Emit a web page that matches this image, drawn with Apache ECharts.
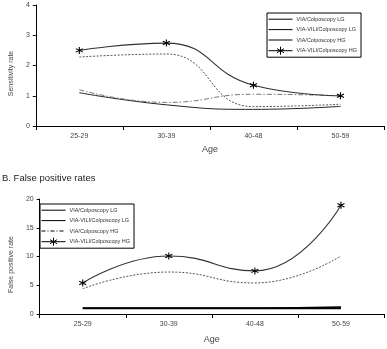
<!DOCTYPE html>
<html>
<head>
<meta charset="utf-8">
<script src="https://cdn.jsdelivr.net/npm/echarts@6/dist/echarts.min.js"></script>
<style>
  html, body { margin: 0; padding: 0; background: #fff; }
  #chartA { position: absolute; left: 0; top: 0; width: 387px; height: 160px; }
  #chartB { position: absolute; left: 0; top: 160px; width: 387px; height: 189px; }
</style>
</head>
<body>
<div id="chartA"></div>
<div id="chartB"></div>
<script>
// categories
var ages = ['25-29', '30-39', '40-48', '50-59'];
var names = ['VIA/Colposcopy LG', 'VIA-VILI/Colposcopy LG', 'VIA/Colposcopy HG', 'VIA-VILI/Colposcopy HG'];

// A: sensitivity rate
var sensViaLG = [1.1, 0.7, 0.55, 0.65];
var sensViliLG = [1.2, 0.78, 1.05, 1.0];
var sensViaHG = [2.28, 2.38, 0.64, 0.72];
var sensViliHG = [2.5, 2.74, 1.35, 1.0];

// B: false positive rate
var fpViaLG = [1.0, 1.0, 1.0, 1.0];
var fpViliLG = [1.0, 1.0, 1.0, 1.2];
var fpViaHG = [4.4, 7.3, 5.4, 10.1];
var fpViliHG = [5.4, 10.1, 7.5, 18.9];

var FONT = 'Liberation Sans';
var TXT = '#444';
var star = 'path://M5,0L5,10M0.67,2.5L9.33,7.5M0.67,7.5L9.33,2.5';
// legend icon: line with an asterisk in the middle
var starLine = 'path://M0,4L24,4M12,0L12,8M8.5,2L15.5,6M8.5,6L15.5,2';

function xAxisOpt(gap){
	return {
		type: 'category',
		data: ages,
		boundaryGap: true,
		name: 'Age',
		nameLocation: 'middle',
		nameGap: gap,
		nameTextStyle: {fontFamily: FONT, fontSize: 9, color: TXT},
		axisLine: {lineStyle: {color: '#000', width: 1}},
		axisTick: {show: true, length: 4, lineStyle: {color: '#000'}},
		axisLabel: {fontFamily: FONT, fontSize: 7, color: TXT, margin: 7}
	};
}

function yAxisOpt(name, max, interval){
	return {
		type: 'value',
		min: 0,
		max: max,
		interval: interval,
		name: name,
		nameLocation: 'middle',
		nameGap: 13,
		nameTextStyle: {fontFamily: FONT, fontSize: 7, color: TXT, padding: [0, 0, 0, -16]},
		axisLine: {show: true, lineStyle: {color: '#000', width: 1}},
		axisTick: {show: true, length: 3, lineStyle: {color: '#000'}},
		axisLabel: {fontFamily: FONT, fontSize: 7, color: TXT, margin: 6},
		splitLine: {show: false}
	};
}

function legendOpt(left, top, items){
	return {
		orient: 'vertical',
		left: left,
		top: top,
		padding: [2, 4, 2, 1],
		itemGap: 2,
		itemWidth: 24,
		itemHeight: 8,
		borderColor: '#000',
		borderWidth: 1,
		borderRadius: 0,
		backgroundColor: '#fff',
		textStyle: {fontFamily: FONT, fontSize: 5.5, color: '#333', padding: [0, 0, 0, -1]},
		data: items
	};
}

function line(name, data, style, withStar){
	return {
		name: name,
		type: 'line',
		data: data,
		smooth: 0.5,
		symbol: withStar ? star : 'none',
		symbolSize: 7,
		showSymbol: withStar,
		itemStyle: {color: '#000', borderColor: '#000', borderWidth: 1.1},
		lineStyle: style,
		emphasis: {disabled: true},
		z: withStar ? 5 : 3
	};
}

var solidIcon = {type: 'solid', color: '#000', width: 1};
var noMark = {opacity: 0};

function starLegend(name){
	return {
		name: name,
		icon: starLine,
		lineStyle: solidIcon,
		itemStyle: {color: '#000', borderColor: '#000', borderWidth: 1, opacity: 1}
	};
}

var chartA = echarts.init(document.getElementById('chartA'));
chartA.setOption({
	animation: false,
	grid: {left: 23, right: 3, top: 5, height: 121},
	xAxis: xAxisOpt(19),
	yAxis: yAxisOpt('Sensitivity rate', 4, 1),
	legend: legendOpt(267, 13, [
		{name: names[0], lineStyle: solidIcon, itemStyle: noMark},
		{name: names[1], lineStyle: solidIcon, itemStyle: noMark},
		{name: names[2], lineStyle: solidIcon, itemStyle: noMark},
		starLegend(names[3])
	]),
	series: [
		line(names[0], sensViaLG, {color: '#222', width: 1}, false),
		line(names[1], sensViliLG, {color: '#777', width: 1, type: [5, 2, 1.5, 2]}, false),
		line(names[2], sensViaHG, {color: '#555', width: 1, type: [2, 1.5]}, false),
		line(names[3], sensViliHG, {color: '#333', width: 1.1}, true)
	]
});

var chartB = echarts.init(document.getElementById('chartB'));
chartB.setOption({
	animation: false,
	title: {
		text: 'B. False positive rates',
		left: 2,
		top: 13,
		padding: 0,
		textStyle: {fontFamily: FONT, fontSize: 9.5, fontWeight: 'normal', color: '#222'}
	},
	grid: {left: 23, right: 3, top: 39, height: 120},
	xAxis: xAxisOpt(21),
	yAxis: yAxisOpt('False positive rate', 20, 5),
	legend: legendOpt(40, 44, [
		{name: names[0], lineStyle: solidIcon, itemStyle: noMark},
		{name: names[1], lineStyle: solidIcon, itemStyle: noMark},
		{name: names[2], lineStyle: {type: [4, 2, 1, 2], color: '#000', width: 1}, itemStyle: noMark},
		starLegend(names[3])
	]),
	series: [
		line(names[0], fpViaLG, {color: '#000', width: 2}, false),
		line(names[1], fpViliLG, {color: '#000', width: 1.5}, false),
		line(names[2], fpViaHG, {color: '#555', width: 1, type: [2, 1.5]}, false),
		line(names[3], fpViliHG, {color: '#333', width: 1.1}, true)
	]
});
</script>
</body>
</html>
